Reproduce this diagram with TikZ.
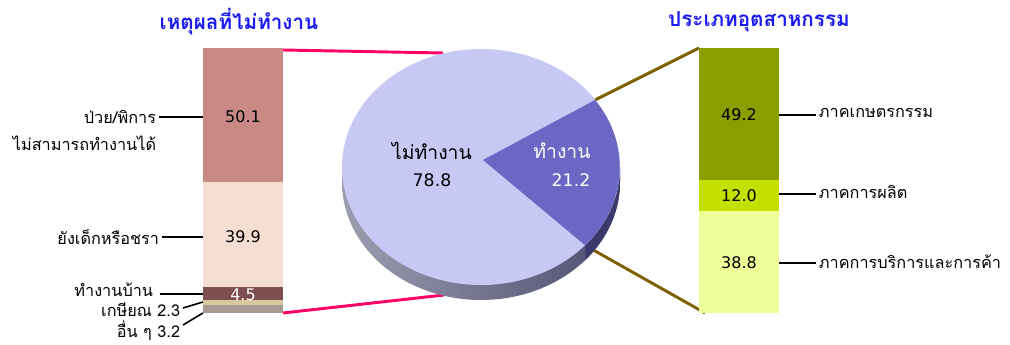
\documentclass[tikz,border=0pt]{standalone}
\usepackage{fontspec}
\setmainfont[Script=Thai]{Loma}
\newfontfamily\numfont{DejaVu Sans}
\definecolor{titleblue}{HTML}{1A1AF0}
\definecolor{sickred}{HTML}{C98A86}
\definecolor{agepink}{HTML}{F5DDD1}
\definecolor{housebrown}{HTML}{7D4E50}
\definecolor{retirebeige}{HTML}{D8C8A0}
\definecolor{othergrey}{HTML}{A89A90}
\definecolor{farmolive}{HTML}{8A9E00}
\definecolor{makegreen}{HTML}{C3E000}
\definecolor{tradeyellow}{HTML}{EEFF99}
\definecolor{linkpink}{HTML}{FF0066}
\definecolor{linkgold}{HTML}{7F6000}
\definecolor{pielight}{HTML}{C8C8F5}
\definecolor{pieslice}{HTML}{6C66C4}
\definecolor{pieside}{HTML}{4C4C70}
\begin{document}
\begin{tikzpicture}[x=0.75pt,y=-0.75pt,
  lbl/.style={font=\fontsize{12.2}{14}\selectfont,inner sep=2pt},
  val/.style={font=\numfont\fontsize{12}{14}\selectfont},
  pielbl/.style={font=\fontsize{14.5}{16}\selectfont},
  title/.style={font=\fontsize{15.5}{18}\selectfont\bfseries,text=titleblue},
  tick/.style={line width=1.2pt},
  link/.style={line width=2.2pt}]
\useasboundingbox (0,0) rectangle (1010,345);

% titles
\node[title] (whyTitle) at (239,22) {เหตุผลที่ไม่ทำงาน};
\node[title] (kindTitle) at (759,22) {ประเภทอุตสาหกรรม};

% connectors pie -> bars
\coordinate (pieTop) at (443,53);
\coordinate (pieBot) at (444,295);
\coordinate (sliceTop) at (595,100);
\coordinate (sliceBot) at (588,247);
\coordinate (leftTop) at (283,50);
\coordinate (leftBot) at (283,313);
\coordinate (rightTop) at (699,48);
\coordinate (rightBot) at (705,313);
\draw[link,linkpink] (leftTop) -- (pieTop);
\draw[link,linkpink] (leftBot) -- (pieBot);
\draw[link,linkgold] (sliceTop) -- (rightTop);
\draw[link,linkgold] (sliceBot) -- (rightBot);

% pie, side first
\shade[left color=pieside!55!white,right color=pieside] (342,167) -- (342,182)
  arc[start angle=180,end angle=0,x radius=139,y radius=118] -- (620,167) -- cycle;
\fill[pieslice!55!black] (620,167) -- (620,182)
  arc[start angle=0,end angle=41.4,x radius=139,y radius=118] -- ++(0,-15)
  arc[start angle=41.4,end angle=0,x radius=139,y radius=118] -- cycle;
\fill[pielight] (481,167) ellipse[x radius=139,y radius=118];
\fill[pieslice] (483,160) -- (sliceTop)
  arc[start angle=-34.7,end angle=41.4,x radius=139,y radius=118] -- cycle;
\node[pielbl] (notWork) at (432,151) {ไม่ทำงาน};
\node[val,font=\numfont\fontsize{13}{15}\selectfont] (notWorkVal) at (432,180) {78.8};
\node[pielbl,text=white] (work) at (562,151) {ทำงาน};
\node[val,font=\numfont\fontsize{13}{15}\selectfont,text=white] (workVal) at (571,180) {21.2};

% left bar
\fill[sickred] (203,48) rectangle (283,182);
\fill[agepink] (203,182) rectangle (283,287);
\fill[housebrown] (203,287) rectangle (283,300);
\fill[retirebeige] (203,300) rectangle (283,305);
\fill[othergrey] (203,305) rectangle (283,313);
\node[val] (sickVal) at (243,117) {50.1};
\node[val] (ageVal) at (243,237) {39.9};
\node[val,text=white] (houseVal) at (243,295) {4.5};

\node[lbl,anchor=east] (sick) at (159,117) {ป่วย/พิการ};
\node[lbl,anchor=east] (sickB) at (159,143) {ไม่สามารถทำงานได้};
\node[lbl,anchor=east] (age) at (162,237) {ยังเด็กหรือชรา};
\node[lbl,anchor=east] (house) at (156,290) {ทำงานบ้าน};
\node[lbl,anchor=east] (retire) at (183,310) {เกษียณ 2.3};
\node[lbl,anchor=east] (other) at (183,331) {อื่น ๆ 3.2};
\coordinate (sickEnd) at (203,117);
\coordinate (ageEnd) at (203,237);
\coordinate (houseStart) at (160,294);
\coordinate (houseEnd) at (203,294);
\coordinate (retireStart) at (183,308);
\coordinate (retireEnd) at (203,302);
\coordinate (otherStart) at (183,325);
\coordinate (otherEnd) at (203,313);
\draw[tick] (sick.east) -- (sickEnd);
\draw[tick] (age.east) -- (ageEnd);
\draw[tick] (houseStart) -- (houseEnd);
\draw[tick] (retireStart) -- (retireEnd);
\draw[tick] (otherStart) -- (otherEnd);

% right bar
\fill[farmolive] (699,48) rectangle (779,180);
\fill[makegreen] (699,180) rectangle (779,211);
\fill[tradeyellow] (699,211) rectangle (779,313);
\node[val] (farmVal) at (739,115) {49.2};
\node[val] (makeVal) at (739,196) {12.0};
\node[val] (tradeVal) at (739,263) {38.8};

\node[lbl,anchor=west] (farm) at (816,113) {ภาคเกษตรกรรม};
\node[lbl,anchor=west] (make) at (816,192) {ภาคการผลิต};
\node[lbl,anchor=west] (trade) at (816,262) {ภาคการบริการและการค้า};
\coordinate (farmStart) at (779,115);
\coordinate (makeStart) at (779,194);
\coordinate (tradeStart) at (779,263);
\draw[tick] (farmStart) -- (farm.west |- farmStart);
\draw[tick] (makeStart) -- (make.west |- makeStart);
\draw[tick] (tradeStart) -- (trade.west |- tradeStart);
\end{tikzpicture}
\end{document}
